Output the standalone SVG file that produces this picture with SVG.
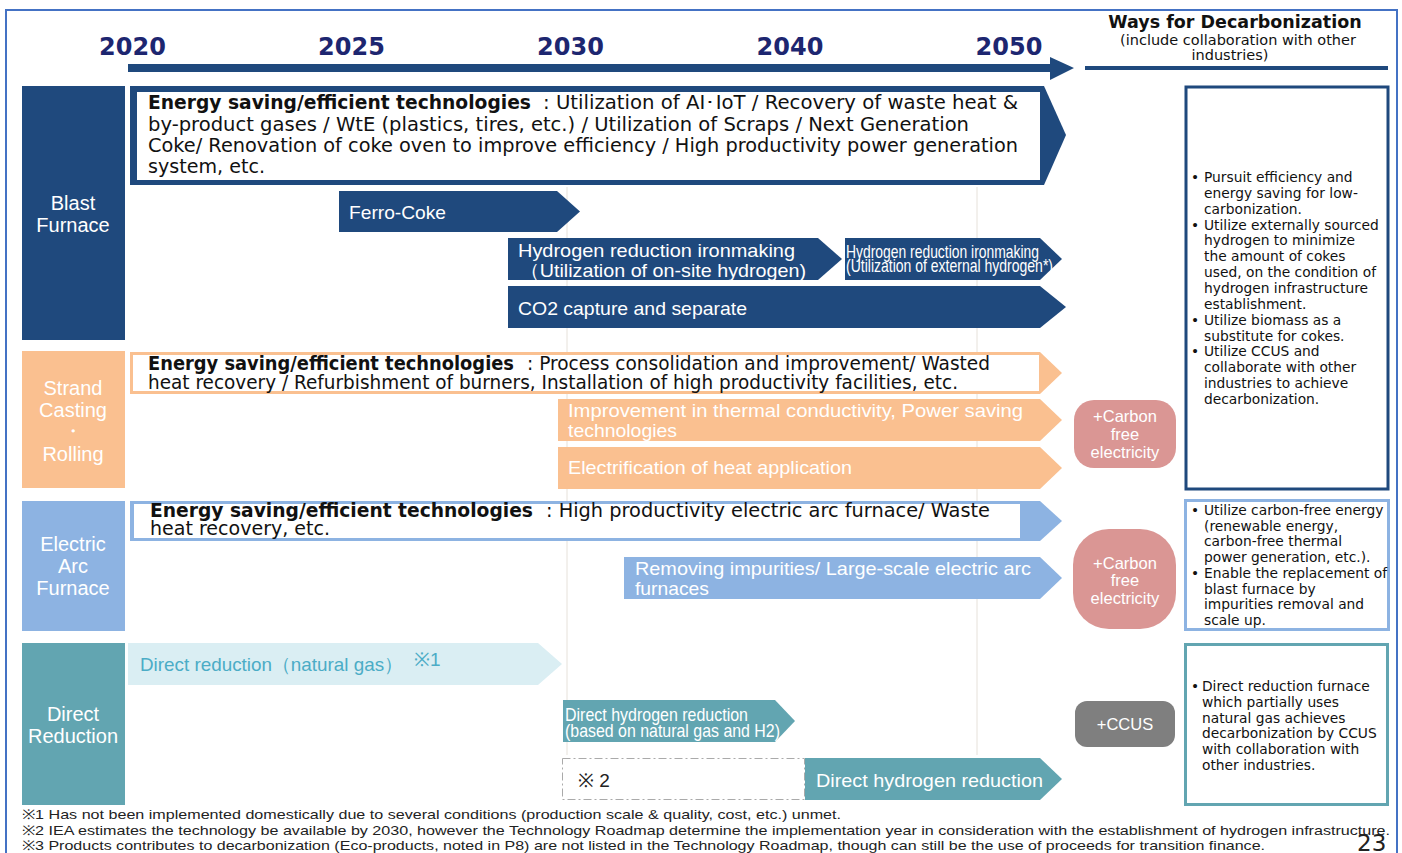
<svg xmlns="http://www.w3.org/2000/svg" width="1402" height="853" viewBox="0 0 1402 853">
<defs>
<style>
.yr{font-family:"DejaVu Sans",sans-serif;font-weight:bold;font-size:24px;fill:#1d2670;text-anchor:middle}
.hd{font-family:"DejaVu Sans",sans-serif;fill:#111;text-anchor:middle}
.vb{font-family:"DejaVu Sans",sans-serif;fill:#111;font-size:19px}
.tb{font-family:"Liberation Sans",Arial,sans-serif;font-size:19px;fill:#fff}
.lab{font-family:"Liberation Sans",Arial,sans-serif;font-size:20px;fill:#fff;text-anchor:middle}
.pill{font-family:"Liberation Sans",Arial,sans-serif;font-size:16.5px;fill:#fff;text-anchor:middle}
.rc{font-family:"DejaVu Sans",sans-serif;font-size:13.8px;fill:#111}
.fn{font-family:"Liberation Sans",Arial,sans-serif;font-size:13.5px;fill:#222}
.navy{fill:#1F497D}
.peach{fill:#FAC090}
.lblue{fill:#8DB3E2}
.teal{fill:#62A5B1}
</style>
</defs>
<rect x="0" y="0" width="1402" height="853" fill="#fff"/>
<rect x="6" y="10" width="1391" height="870" fill="none" stroke="#4472C4" stroke-width="2"/>

<g id="gridlines" stroke="#e6e1da" stroke-width="1">
<line x1="567" y1="187" x2="567" y2="755"/>
<line x1="977" y1="187" x2="977" y2="755"/>
</g>

<g id="timeline">
<text class="yr" x="132.5" y="55">2020</text>
<text class="yr" x="351.5" y="55">2025</text>
<text class="yr" x="570.5" y="55">2030</text>
<text class="yr" x="790" y="55">2040</text>
<text class="yr" x="1009" y="55">2050</text>
<path class="navy" d="M128,64 H1050 V57 L1074,68 L1050,80 V72 H128 Z"/>
</g>

<g id="header">
<text class="hd" x="1235" y="28" font-size="17.5" font-weight="bold">Ways for Decarbonization</text>
<text class="hd" x="1238" y="45" font-size="14.5">(include collaboration with other</text>
<text class="hd" x="1230" y="60" font-size="14.5">industries)</text>
<rect class="navy" x="1085" y="66" width="303" height="4"/>
</g>

<g id="blast-furnace">
<rect class="navy" x="22" y="86" width="103" height="254"/>
<text class="lab" x="73" y="210">Blast</text>
<text class="lab" x="73" y="232">Furnace</text>
</g>
<g id="bf-energy">
<path class="navy" d="M130,86 H1044 L1066,135 L1044,185 H130 Z"/>
<rect x="137" y="92" width="903" height="88" fill="#fff"/>
<text class="vb" x="148" y="109" font-weight="bold" textLength="383" lengthAdjust="spacingAndGlyphs">Energy saving/efficient technologies</text>
<text class="vb" x="543" y="109" textLength="475" lengthAdjust="spacingAndGlyphs">: Utilization of AI･IoT / Recovery of waste heat &amp;</text>
<text class="vb" x="148" y="131" textLength="821" lengthAdjust="spacingAndGlyphs">by-product gases / WtE (plastics, tires, etc.) / Utilization of Scraps / Next Generation</text>
<text class="vb" x="148" y="152" textLength="870" lengthAdjust="spacingAndGlyphs">Coke/ Renovation of coke oven to improve efficiency / High productivity power generation</text>
<text class="vb" x="148" y="173" textLength="117" lengthAdjust="spacingAndGlyphs">system, etc.</text>
</g>
<g id="bf-ferrocoke">
<path class="navy" d="M339,191 H557 L580,211.5 L557,232 H339 Z"/>
<text class="tb" x="349" y="219" textLength="97" lengthAdjust="spacingAndGlyphs">Ferro-Coke</text>
</g>
<g id="bf-h2-onsite">
<path class="navy" d="M508,238 H818 L842,259 L818,280 H508 Z"/>
<text class="tb" x="518" y="257" textLength="277" lengthAdjust="spacingAndGlyphs">Hydrogen reduction ironmaking</text>
<text class="tb" x="520" y="277" textLength="286" lengthAdjust="spacingAndGlyphs">（Utilization of on-site hydrogen)</text>
</g>
<g id="bf-h2-external">
<path class="navy" d="M845,238 H1040 L1062,259 L1040,280 H845 Z"/>
<text class="tb" x="846" y="257.5" font-size="11.5" textLength="193" lengthAdjust="spacingAndGlyphs">Hydrogen reduction ironmaking</text>
<text class="tb" x="846" y="271.5" font-size="11.5" textLength="207" lengthAdjust="spacingAndGlyphs">(Utilization of external hydrogen*)</text>
</g>
<g id="bf-co2">
<path class="navy" d="M508,286 H1040 L1066,307 L1040,328 H508 Z"/>
<text class="tb" x="518" y="315" textLength="229" lengthAdjust="spacingAndGlyphs">CO2 capture and separate</text>
</g>

<g id="strand-casting">
<rect class="peach" x="22" y="351" width="103" height="137"/>
<text class="lab" x="73" y="395">Strand</text>
<text class="lab" x="73" y="417">Casting</text>
<text class="lab" x="73" y="438">・</text>
<text class="lab" x="73" y="461">Rolling</text>
</g>
<g id="sc-energy">
<path class="peach" d="M130,352 H1040 L1062,373 L1040,394 H130 Z"/>
<rect x="133" y="355" width="906" height="36" fill="#fff"/>
<text class="vb" x="148" y="370" font-size="17.5" font-weight="bold" textLength="366" lengthAdjust="spacingAndGlyphs">Energy saving/efficient technologies</text>
<text class="vb" x="527" y="370" font-size="17.5" textLength="463" lengthAdjust="spacingAndGlyphs">: Process consolidation and improvement/ Wasted</text>
<text class="vb" x="148" y="388.5" font-size="17.5" textLength="810" lengthAdjust="spacingAndGlyphs">heat recovery / Refurbishment of burners, Installation of high productivity facilities, etc.</text>
</g>
<g id="sc-thermal">
<path class="peach" d="M558,399 H1040 L1062,420 L1040,441 H558 Z"/>
<text class="tb" x="568" y="417" textLength="455" lengthAdjust="spacingAndGlyphs">Improvement in thermal conductivity, Power saving</text>
<text class="tb" x="568" y="437" textLength="109" lengthAdjust="spacingAndGlyphs">technologies</text>
</g>
<g id="sc-electrification">
<path class="peach" d="M558,447 H1040 L1062,468 L1040,489 H558 Z"/>
<text class="tb" x="568" y="474" textLength="284" lengthAdjust="spacingAndGlyphs">Electrification of heat application</text>
</g>
<g id="sc-carbon-free">
<rect x="1074" y="400" width="102" height="68" rx="20" fill="#DA9694"/>
<text class="pill" x="1125" y="422">+Carbon</text>
<text class="pill" x="1125" y="440">free</text>
<text class="pill" x="1125" y="458">electricity</text>
</g>

<g id="electric-arc-furnace">
<rect class="lblue" x="22" y="501" width="103" height="130"/>
<text class="lab" x="73" y="551">Electric</text>
<text class="lab" x="73" y="573">Arc</text>
<text class="lab" x="73" y="595">Furnace</text>
</g>
<g id="eaf-energy">
<path class="lblue" d="M130,501 H1040 L1062,521 L1040,541 H130 Z"/>
<rect x="134" y="504" width="886" height="34" fill="#fff"/>
<text class="vb" x="150" y="517" font-size="17.5" font-weight="bold" textLength="383" lengthAdjust="spacingAndGlyphs">Energy saving/efficient technologies</text>
<text class="vb" x="546" y="517" font-size="17.5" textLength="444" lengthAdjust="spacingAndGlyphs">: High productivity electric arc furnace/ Waste</text>
<text class="vb" x="150" y="535" font-size="17.5" textLength="180" lengthAdjust="spacingAndGlyphs">heat recovery, etc.</text>
</g>
<g id="eaf-impurities">
<path class="lblue" d="M624,557 H1040 L1062,578 L1040,599 H624 Z"/>
<text class="tb" x="635" y="575" textLength="396" lengthAdjust="spacingAndGlyphs">Removing impurities/ Large-scale electric arc</text>
<text class="tb" x="635" y="595" textLength="74" lengthAdjust="spacingAndGlyphs">furnaces</text>
</g>
<g id="eaf-carbon-free">
<rect x="1073" y="529" width="103" height="100" rx="36" fill="#DA9694"/>
<text class="pill" x="1125" y="569">+Carbon</text>
<text class="pill" x="1125" y="586">free</text>
<text class="pill" x="1125" y="604">electricity</text>
</g>

<g id="direct-reduction">
<rect class="teal" x="22" y="643" width="103" height="162"/>
<text class="lab" x="73" y="721">Direct</text>
<text class="lab" x="73" y="743">Reduction</text>
</g>
<g id="dr-natural-gas">
<path d="M128,643 H538 L562,664 L538,685 H128 Z" fill="#DAEEF3"/>
<text class="tb" x="140" y="671" style="fill:#4BACC6" textLength="263" lengthAdjust="spacingAndGlyphs">Direct reduction（natural gas）</text>
<text class="tb" x="414" y="666" font-size="10" style="fill:#4BACC6">※1</text>
</g>
<g id="dr-h2-based">
<path class="teal" d="M563,700 H775 L795,721 L775,742 H563 Z"/>
<text class="tb" x="565" y="720.5" font-size="13.5" textLength="183" lengthAdjust="spacingAndGlyphs">Direct hydrogen reduction</text>
<text class="tb" x="565" y="737" font-size="13.5" textLength="215" lengthAdjust="spacingAndGlyphs">(based on natural gas and H2)</text>
</g>
<g id="dr-note2">
<rect x="562.5" y="758.5" width="242" height="41" fill="#fff" stroke="#aaa" stroke-width="1" stroke-dasharray="8,3,2,3"/>
<text x="578" y="787" font-family="Liberation Sans, Arial, sans-serif" font-size="19" fill="#222">※ 2</text>
</g>
<g id="dr-h2">
<path class="teal" d="M805,758 H1040 L1062,779 L1040,800 H805 Z"/>
<text class="tb" x="816" y="787" textLength="227" lengthAdjust="spacingAndGlyphs">Direct hydrogen reduction</text>
</g>
<g id="dr-ccus">
<rect x="1075" y="701" width="100" height="46" rx="12" fill="#7F7F7F"/>
<text class="pill" x="1125" y="730" font-size="18">+CCUS</text>
</g>

<g id="ways-blast-furnace">
<rect x="1186" y="87" width="202" height="402" fill="#fff" stroke="#1F497D" stroke-width="3"/>
<text class="rc">
<tspan x="1191" y="182">•</tspan><tspan x="1204" y="182">Pursuit efficiency and</tspan>
<tspan x="1204" y="197.9">energy saving for low-</tspan>
<tspan x="1204" y="213.7">carbonization.</tspan>
<tspan x="1191" y="229.6">•</tspan><tspan x="1204" y="229.6">Utilize externally sourced</tspan>
<tspan x="1204" y="245.4">hydrogen to minimize</tspan>
<tspan x="1204" y="261.3">the amount of cokes</tspan>
<tspan x="1204" y="277.1">used, on the condition of</tspan>
<tspan x="1204" y="293">hydrogen infrastructure</tspan>
<tspan x="1204" y="308.8">establishment.</tspan>
<tspan x="1191" y="324.7">•</tspan><tspan x="1204" y="324.7">Utilize biomass as a</tspan>
<tspan x="1204" y="340.5">substitute for cokes.</tspan>
<tspan x="1191" y="356.4">•</tspan><tspan x="1204" y="356.4">Utilize CCUS and</tspan>
<tspan x="1204" y="372.2">collaborate with other</tspan>
<tspan x="1204" y="388.1">industries to achieve</tspan>
<tspan x="1204" y="403.9">decarbonization.</tspan>
</text>
</g>
<g id="ways-eaf">
<rect x="1185.5" y="500.5" width="203" height="129" fill="#fff" stroke="#8DB3E2" stroke-width="3"/>
<text class="rc">
<tspan x="1191" y="515">•</tspan><tspan x="1204" y="515">Utilize carbon-free energy</tspan>
<tspan x="1204" y="530.7">(renewable energy,</tspan>
<tspan x="1204" y="546.4">carbon-free thermal</tspan>
<tspan x="1204" y="562.1">power generation, etc.).</tspan>
<tspan x="1191" y="577.8">•</tspan><tspan x="1204" y="577.8">Enable the replacement of</tspan>
<tspan x="1204" y="593.5">blast furnace by</tspan>
<tspan x="1204" y="609.2">impurities removal and</tspan>
<tspan x="1204" y="624.9">scale up.</tspan>
</text>
</g>
<g id="ways-dr">
<rect x="1185.5" y="644.5" width="202" height="160" fill="#fff" stroke="#62A5B1" stroke-width="3"/>
<text class="rc">
<tspan x="1191" y="691">•</tspan><tspan x="1202" y="691">Direct reduction furnace</tspan>
<tspan x="1202" y="706.8">which partially uses</tspan>
<tspan x="1202" y="722.6">natural gas achieves</tspan>
<tspan x="1202" y="738.4">decarbonization by CCUS</tspan>
<tspan x="1202" y="754.2">with collaboration with</tspan>
<tspan x="1202" y="770">other industries.</tspan>
</text>
</g>

<g id="footnotes">
<text class="fn" x="22" y="819" textLength="819" lengthAdjust="spacingAndGlyphs">※1 Has not been implemented domestically due to several conditions (production scale &amp; quality, cost, etc.) unmet.</text>
<text class="fn" x="22" y="835" textLength="1368" lengthAdjust="spacingAndGlyphs">※2 IEA estimates the technology be available by 2030, however the Technology Roadmap determine the implementation year in consideration with the establishment of hydrogen infrastructure.</text>
<text class="fn" x="22" y="850" textLength="1243" lengthAdjust="spacingAndGlyphs">※3 Products contributes to decarbonization (Eco-products, noted in P8) are not listed in the Technology Roadmap, though can still be the use of proceeds for transition finance.</text>
<text x="1357" y="851" font-family="DejaVu Sans, sans-serif" font-size="23" fill="#222">23</text>
</g>
</svg>
